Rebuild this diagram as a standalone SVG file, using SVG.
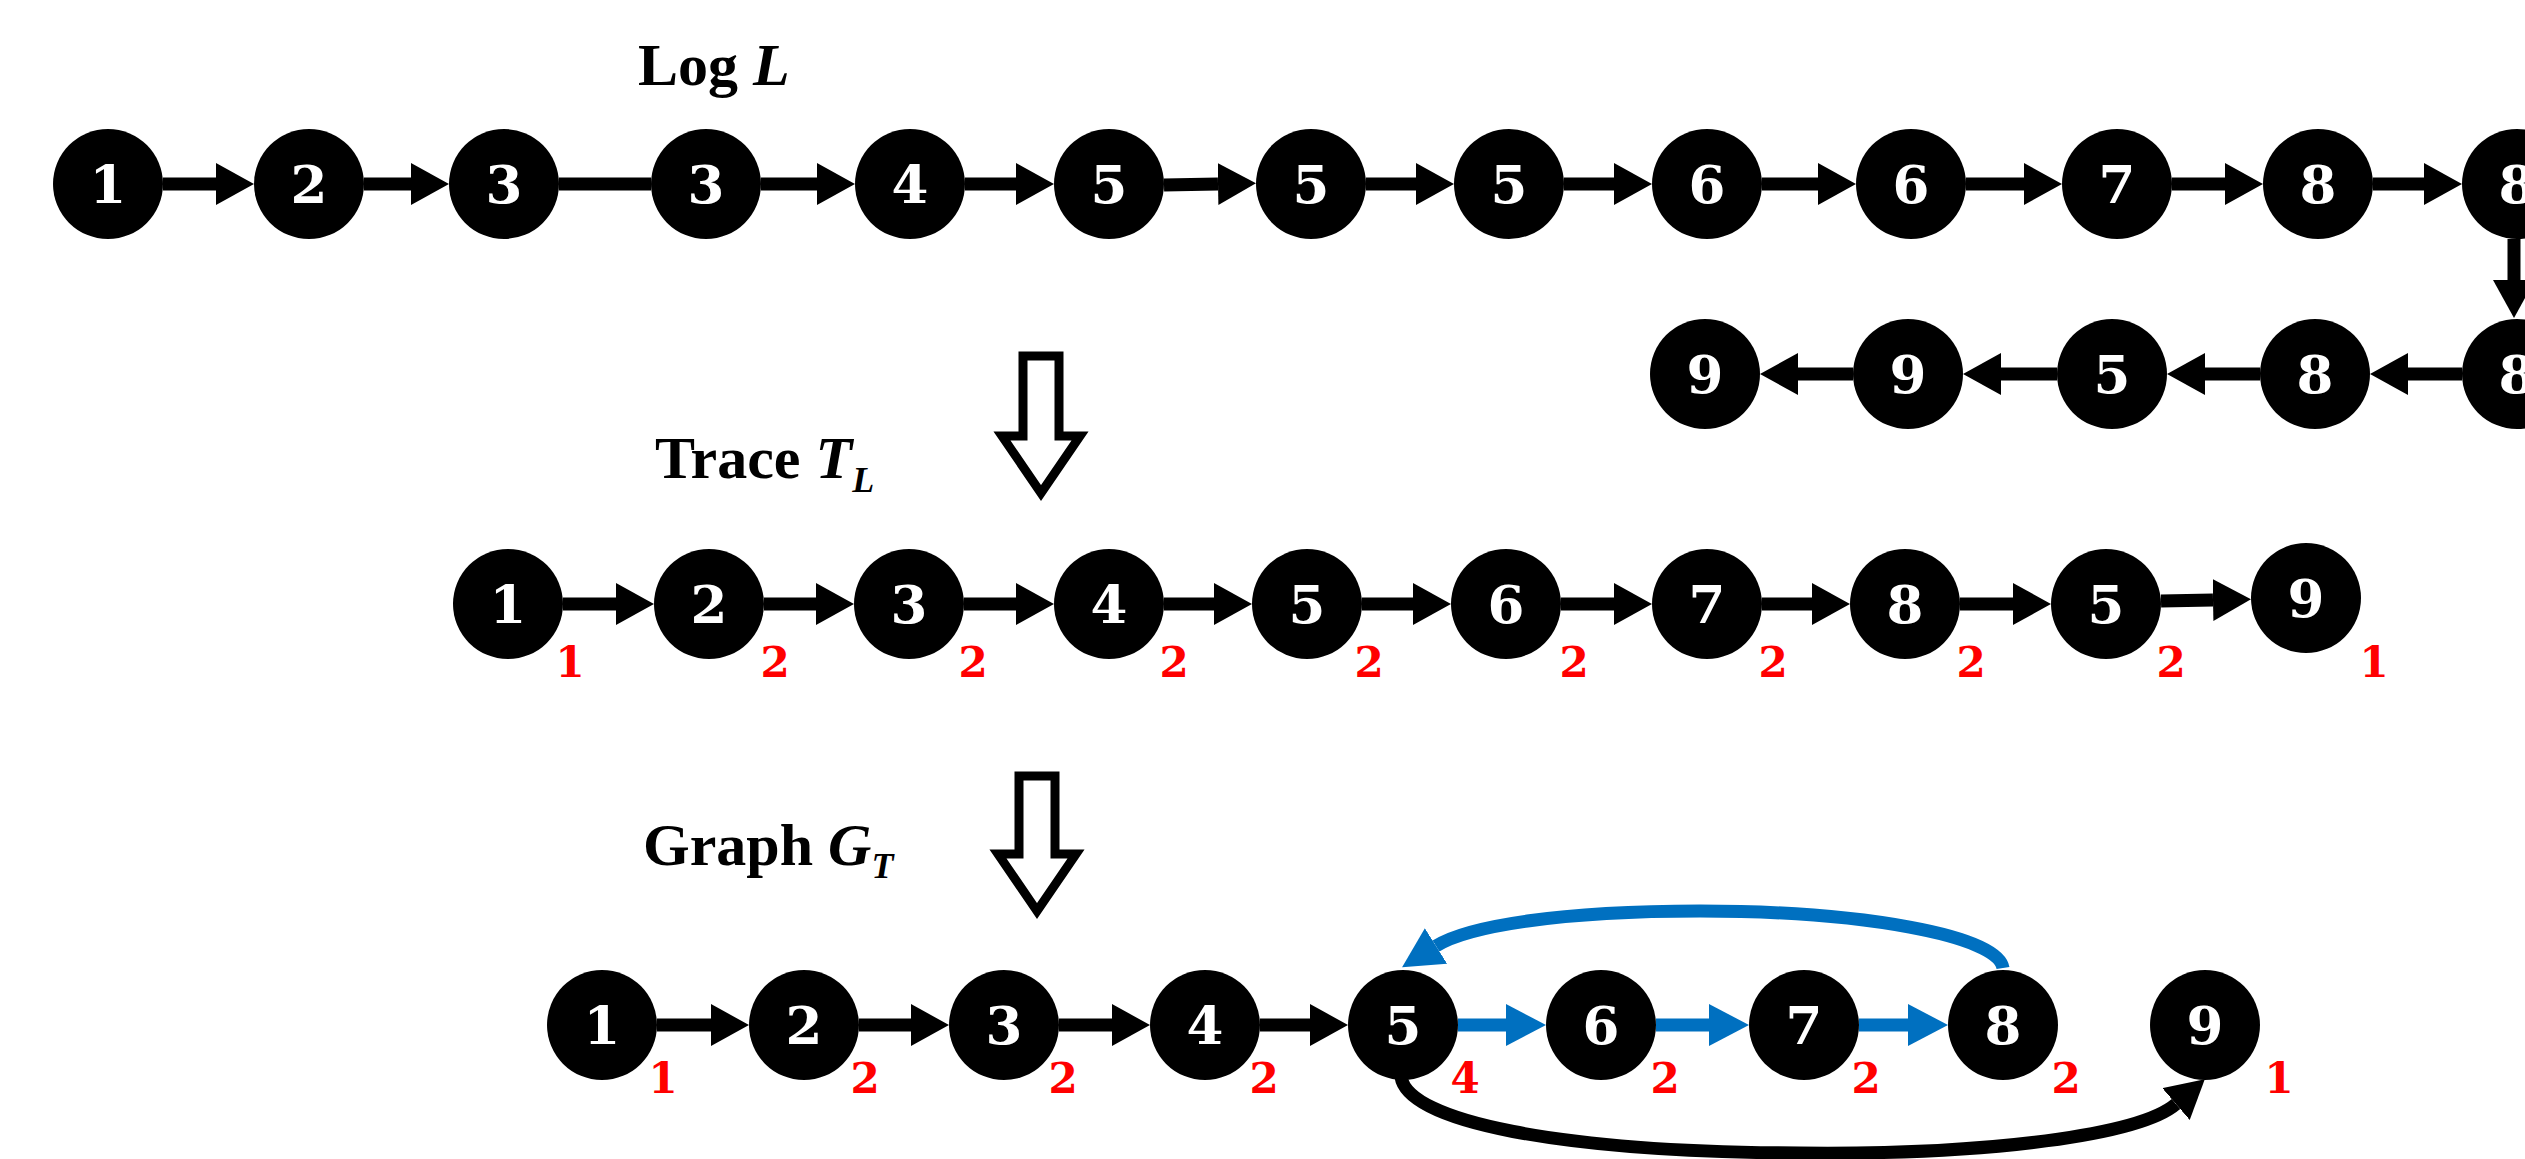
<svg xmlns="http://www.w3.org/2000/svg" width="2525" height="1159" viewBox="0 0 2525 1159">
<style>
.nd circle{fill:#000}
.nd text{fill:#fff;font-family:"DejaVu Serif",serif;font-weight:bold;font-size:53px;text-anchor:middle}
.nd .cnt{fill:#FF0000;font-family:"DejaVu Serif",serif;font-weight:bold;font-size:42px;text-anchor:middle}
.ttl{fill:#000;font-family:"Liberation Serif","Times New Roman",serif;font-weight:bold;font-size:60px}
.it{font-style:italic}
.k{stroke:#000;stroke-width:13;fill:none}
.kb{stroke:#000;stroke-width:13;fill:none;marker-end:url(#ahK)}
.bb{stroke:#0070C0;stroke-width:13;fill:none;marker-end:url(#ahB)}
.hollow{fill:#fff;stroke:#000;stroke-width:9;stroke-linejoin:miter}
</style>
<defs>
<marker id="ahK" markerUnits="userSpaceOnUse" viewBox="0 0 38 42" markerWidth="38" markerHeight="42" refX="0" refY="21" orient="auto"><path d="M0,0 L38,21 L0,42 Z" fill="#000"/></marker>
<marker id="ahB" markerUnits="userSpaceOnUse" viewBox="0 0 40 42" markerWidth="40" markerHeight="42" refX="0" refY="21" orient="auto"><path d="M0,0 L40,21 L0,42 Z" fill="#0070C0"/></marker>
</defs>
<rect width="2525" height="1159" fill="#fff"/>

<g id="titles">
<text class="ttl" x="638" y="85">Log <tspan class="it">L</tspan></text>
<text class="ttl" x="655" y="478">Trace <tspan class="it">T</tspan><tspan class="it" font-size="36" dy="14">L</tspan></text>
<text class="ttl" x="643" y="865">Graph <tspan class="it">G</tspan><tspan class="it" font-size="36" dy="13">T</tspan></text>
</g>

<g id="transform-arrows">
<polygon class="hollow" points="1023,356 1059,356 1059,436 1080,436 1041,493 1002,436 1023,436"/>
<polygon class="hollow" points="1019,776 1055,776 1055,854 1076,854 1037,911 998,854 1019,854"/>
</g>

<g id="connectors">
<!-- Log row 1 -->
<line class="kb" x1="163" y1="184" x2="216" y2="184"/>
<line class="kb" x1="364" y1="184" x2="411" y2="184"/>
<line class="k" x1="559" y1="184" x2="651" y2="184"/>
<line class="kb" x1="761" y1="184" x2="817" y2="184"/>
<line class="kb" x1="965" y1="184" x2="1016" y2="184"/>
<line class="kb" x1="1164" y1="185" x2="1218" y2="184"/>
<line class="kb" x1="1366" y1="184" x2="1416" y2="184"/>
<line class="kb" x1="1564" y1="184" x2="1614" y2="184"/>
<line class="kb" x1="1762" y1="184" x2="1818" y2="184"/>
<line class="kb" x1="1966" y1="184" x2="2024" y2="184"/>
<line class="kb" x1="2172" y1="184" x2="2225" y2="184"/>
<line class="kb" x1="2373" y1="184" x2="2424" y2="184"/>
<line class="kb" x1="2514" y1="239" x2="2514" y2="280"/>
<!-- Log row 2 (leftward) -->
<line class="kb" x1="2462" y1="374" x2="2408" y2="374"/>
<line class="kb" x1="2260" y1="374" x2="2205" y2="374"/>
<line class="kb" x1="2057" y1="374" x2="2001" y2="374"/>
<line class="kb" x1="1853" y1="374" x2="1798" y2="374"/>
<!-- Trace row -->
<line class="kb" x1="563" y1="604" x2="616" y2="604"/>
<line class="kb" x1="764" y1="604" x2="816" y2="604"/>
<line class="kb" x1="964" y1="604" x2="1016" y2="604"/>
<line class="kb" x1="1164" y1="604" x2="1214" y2="604"/>
<line class="kb" x1="1362" y1="604" x2="1413" y2="604"/>
<line class="kb" x1="1561" y1="604" x2="1614" y2="604"/>
<line class="kb" x1="1762" y1="604" x2="1812" y2="604"/>
<line class="kb" x1="1960" y1="604" x2="2013" y2="604"/>
<line class="kb" x1="2161" y1="601" x2="2213" y2="600"/>
<!-- Graph row -->
<line class="kb" x1="657" y1="1025" x2="711" y2="1025"/>
<line class="kb" x1="859" y1="1025" x2="911" y2="1025"/>
<line class="kb" x1="1059" y1="1025" x2="1112" y2="1025"/>
<line class="kb" x1="1260" y1="1025" x2="1310" y2="1025"/>
<line class="bb" x1="1458" y1="1025" x2="1506" y2="1025"/>
<line class="bb" x1="1656" y1="1025" x2="1709" y2="1025"/>
<line class="bb" x1="1859" y1="1025" x2="1908" y2="1025"/>
<path class="bb" d="M2003,968 C1998,935 1860,911 1700,911 C1560,911 1468,926 1436,946"/>
<path class="kb" d="M1401,1077 C1408,1122 1560,1152 1800,1153 C1990,1155 2140,1135 2176,1104"/>
</g>

<g id="log-nodes">
<g id="L1" class="nd"><circle cx="108" cy="184" r="55"/><text x="108" y="203">1</text></g>
<g id="L2" class="nd"><circle cx="309" cy="184" r="55"/><text x="309" y="203">2</text></g>
<g id="L3" class="nd"><circle cx="504" cy="184" r="55"/><text x="504" y="203">3</text></g>
<g id="L4" class="nd"><circle cx="706" cy="184" r="55"/><text x="706" y="203">3</text></g>
<g id="L5" class="nd"><circle cx="910" cy="184" r="55"/><text x="910" y="203">4</text></g>
<g id="L6" class="nd"><circle cx="1109" cy="184" r="55"/><text x="1109" y="203">5</text></g>
<g id="L7" class="nd"><circle cx="1311" cy="184" r="55"/><text x="1311" y="203">5</text></g>
<g id="L8" class="nd"><circle cx="1509" cy="184" r="55"/><text x="1509" y="203">5</text></g>
<g id="L9" class="nd"><circle cx="1707" cy="184" r="55"/><text x="1707" y="203">6</text></g>
<g id="L10" class="nd"><circle cx="1911" cy="184" r="55"/><text x="1911" y="203">6</text></g>
<g id="L11" class="nd"><circle cx="2117" cy="184" r="55"/><text x="2117" y="203">7</text></g>
<g id="L12" class="nd"><circle cx="2318" cy="184" r="55"/><text x="2318" y="203">8</text></g>
<g id="L13" class="nd"><circle cx="2517" cy="184" r="55"/><text x="2517" y="203">8</text></g>
<g id="L14" class="nd"><circle cx="2517" cy="374" r="55"/><text x="2517" y="393">8</text></g>
<g id="L15" class="nd"><circle cx="2315" cy="374" r="55"/><text x="2315" y="393">8</text></g>
<g id="L16" class="nd"><circle cx="2112" cy="374" r="55"/><text x="2112" y="393">5</text></g>
<g id="L17" class="nd"><circle cx="1908" cy="374" r="55"/><text x="1908" y="393">9</text></g>
<g id="L18" class="nd"><circle cx="1705" cy="374" r="55"/><text x="1705" y="393">9</text></g>
</g>

<g id="trace-nodes">
<g id="T1" class="nd"><circle cx="508" cy="604" r="55"/><text x="508" y="623">1</text><text class="cnt" x="570" y="677">1</text></g>
<g id="T2" class="nd"><circle cx="709" cy="604" r="55"/><text x="709" y="623">2</text><text class="cnt" x="775" y="677">2</text></g>
<g id="T3" class="nd"><circle cx="909" cy="604" r="55"/><text x="909" y="623">3</text><text class="cnt" x="973" y="677">2</text></g>
<g id="T4" class="nd"><circle cx="1109" cy="604" r="55"/><text x="1109" y="623">4</text><text class="cnt" x="1174" y="677">2</text></g>
<g id="T5" class="nd"><circle cx="1307" cy="604" r="55"/><text x="1307" y="623">5</text><text class="cnt" x="1369" y="677">2</text></g>
<g id="T6" class="nd"><circle cx="1506" cy="604" r="55"/><text x="1506" y="623">6</text><text class="cnt" x="1574" y="677">2</text></g>
<g id="T7" class="nd"><circle cx="1707" cy="604" r="55"/><text x="1707" y="623">7</text><text class="cnt" x="1773" y="677">2</text></g>
<g id="T8" class="nd"><circle cx="1905" cy="604" r="55"/><text x="1905" y="623">8</text><text class="cnt" x="1971" y="677">2</text></g>
<g id="T9" class="nd"><circle cx="2106" cy="604" r="55"/><text x="2106" y="623">5</text><text class="cnt" x="2171" y="677">2</text></g>
<g id="T10" class="nd"><circle cx="2306" cy="598" r="55"/><text x="2306" y="617">9</text><text class="cnt" x="2374" y="677">1</text></g>
</g>

<g id="graph-nodes">
<g id="G1" class="nd"><circle cx="602" cy="1025" r="55"/><text x="602" y="1044">1</text><text class="cnt" x="663" y="1093">1</text></g>
<g id="G2" class="nd"><circle cx="804" cy="1025" r="55"/><text x="804" y="1044">2</text><text class="cnt" x="865" y="1093">2</text></g>
<g id="G3" class="nd"><circle cx="1004" cy="1025" r="55"/><text x="1004" y="1044">3</text><text class="cnt" x="1063" y="1093">2</text></g>
<g id="G4" class="nd"><circle cx="1205" cy="1025" r="55"/><text x="1205" y="1044">4</text><text class="cnt" x="1264" y="1093">2</text></g>
<g id="G5" class="nd"><circle cx="1403" cy="1025" r="55"/><text x="1403" y="1044">5</text><text class="cnt" x="1465" y="1093">4</text></g>
<g id="G6" class="nd"><circle cx="1601" cy="1025" r="55"/><text x="1601" y="1044">6</text><text class="cnt" x="1665" y="1093">2</text></g>
<g id="G7" class="nd"><circle cx="1804" cy="1025" r="55"/><text x="1804" y="1044">7</text><text class="cnt" x="1866" y="1093">2</text></g>
<g id="G8" class="nd"><circle cx="2003" cy="1025" r="55"/><text x="2003" y="1044">8</text><text class="cnt" x="2066" y="1093">2</text></g>
<g id="G9" class="nd"><circle cx="2205" cy="1025" r="55"/><text x="2205" y="1044">9</text><text class="cnt" x="2279" y="1093">1</text></g>
</g>
</svg>
